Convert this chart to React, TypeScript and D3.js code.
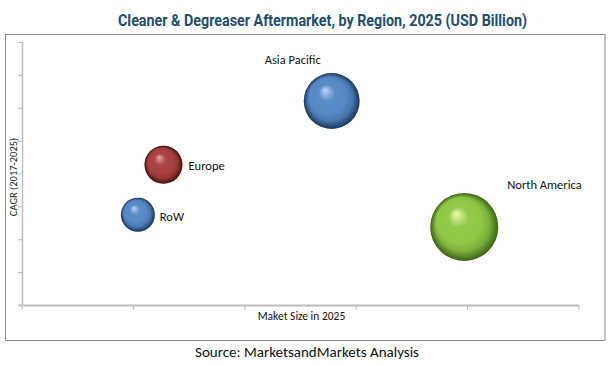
import React from "react";
import * as d3 from "d3";

const regions = ["RoW", "Europe", "Asia Pacific", "North America"];
const marketSize = [1.04, 1.27, 2.78, 3.97];
const cagr = [2.76, 4.28, 6.22, 2.39];
const bubbleSize = [1.0, 1.25, 2.7, 4.0];
const xTicks = [0, 1, 2, 3, 4, 5];
const yTicks = [0, 1, 2, 3, 4, 5, 6, 7, 8];

const palette: Record<string, { hi: string; mid: string; dark: string }> = {
  RoW: { hi: "#b8d6f8", mid: "#5286c4", dark: "#23497a" },
  Europe: { hi: "#f2a5a5", mid: "#a83c3c", dark: "#5e1818" },
  "Asia Pacific": { hi: "#b8d6f8", mid: "#5286c4", dark: "#23497a" },
  "North America": { hi: "#f0fbb5", mid: "#8dc742", dark: "#52841e" },
};

// label placement relative to bubble
const labelPlace: Record<string, { anchor: string; dx: number; dy: number; useR: boolean }> = {
  RoW: { anchor: "start", dx: 5, dy: 2, useR: true },
  Europe: { anchor: "start", dx: 6, dy: 1, useR: true },
  "Asia Pacific": { anchor: "middle", dx: -39, dy: -37, useR: false },
  "North America": { anchor: "start", dx: 43, dy: -38, useR: false },
};

export default function App() {
  const W = 615;
  const H = 365;
  const x = d3.scaleLinear().domain([0, 5]).range([22, 579]);
  const y = d3.scaleLinear().domain([0, 8]).range([305.5, 42.5]);
  const r = d3.scaleSqrt().domain([0, 4]).range([0, 34]);
  const font = "Carlito, Calibri, 'Open Sans', sans-serif";

  const data = regions.map((name, i) => ({
    name,
    x: marketSize[i],
    y: cagr[i],
    s: bubbleSize[i],
  }));

  return (
    <svg
      width={W}
      height={H}
      style={{ position: "absolute", left: 0, top: 0, background: "#fff" }}
    >
      <defs>
        {data.map((d, i) => {
          const c = palette[d.name];
          return (
            <radialGradient
              key={i}
              id={`g${i}`}
              cx="0.5"
              cy="0.5"
              r="0.5"
              fx="0.38"
              fy="0.3"
            >
              <stop offset="0" stopColor={c.hi} />
              <stop offset="0.3" stopColor={c.mid} stopOpacity={0.95} />
              <stop offset="0.8" stopColor={c.mid} />
              <stop offset="1" stopColor={c.dark} />
            </radialGradient>
          );
        })}
        <radialGradient id="shade" cx="0.5" cy="0.5" r="0.5" fx="0.3" fy="0.25">
          <stop offset="0.65" stopColor="#000" stopOpacity={0} />
          <stop offset="1" stopColor="#000" stopOpacity={0.25} />
        </radialGradient>
        <radialGradient id="glow" cx="0.5" cy="0.5" r="0.5">
          <stop offset="0.8" stopColor="#f5e9b0" stopOpacity={0.35} />
          <stop offset="1" stopColor="#f5e9b0" stopOpacity={0} />
        </radialGradient>
      </defs>

      <text
        x={322.5}
        y={26}
        textAnchor="middle"
        fontFamily="'Liberation Sans Narrow', 'Roboto', sans-serif"
        fontWeight="bold"
        fontSize={16}
        fill="#1f4e6e"
        textLength={409}
        lengthAdjust="spacingAndGlyphs"
      >
        Cleaner &amp; Degreaser Aftermarket, by Region, 2025 (USD Billion)
      </text>

      <rect x={5.5} y={34.5} width={599.5} height={306} fill="none" stroke="#8c8c8c" strokeWidth={1} />

      {/* y axis */}
      <line x1={22.5} x2={22.5} y1={y(8)} y2={y(0)} stroke="#bdbdbd" strokeWidth={1.5} />
      {yTicks.map((t) => (
        <line key={t} x1={18} x2={22.5} y1={y(t)} y2={y(t)} stroke="#bdbdbd" strokeWidth={1} />
      ))}
      {/* x axis */}
      <line x1={19} x2={x(5)} y1={y(0)} y2={y(0)} stroke="#bdbdbd" strokeWidth={2} />
      {xTicks.map((t) => (
        <line key={t} x1={x(t)} x2={x(t)} y1={y(0)} y2={y(0) + 4.5} stroke="#bdbdbd" strokeWidth={1} />
      ))}

      <text
        transform={`translate(17,177) rotate(-90)`}
        textAnchor="middle"
        fontFamily={font}
        fontSize={10.5}
        fill="#222"
      >
        CAGR (2017-2025)
      </text>
      <text
        x={301.5}
        y={320}
        textAnchor="middle"
        fontFamily={font}
        fontSize={11.5}
        fill="#111"
      >
        Maket Size in 2025
      </text>

      {data.map((d, i) => {
        const cx = x(d.x);
        const cy = y(d.y);
        const rr = r(d.s);
        return (
          <g key={d.name}>
            <circle cx={cx} cy={cy} r={rr + 2} fill="url(#glow)" />
            <circle cx={cx} cy={cy} r={rr} fill={`url(#g${i})`} />
            <circle cx={cx} cy={cy} r={rr} fill="url(#shade)" />
          </g>
        );
      })}

      {data.map((d) => {
        const cx = x(d.x);
        const cy = y(d.y);
        const rr = r(d.s);
        const p = labelPlace[d.name];
        const lx = p.useR ? cx + rr + p.dx : cx + p.dx;
        const ly = p.useR ? cy + p.dy + 4 : cy + p.dy;
        return (
          <text
            key={d.name}
            x={lx}
            y={ly}
            textAnchor={p.anchor}
            fontFamily={font}
            fontSize={12.5}
            fill="#111"
          >
            {d.name}
          </text>
        );
      })}

      <text
        x={307}
        y={357}
        textAnchor="middle"
        fontFamily={font}
        fontSize={15}
        fill="#111"
      >
        Source: MarketsandMarkets Analysis
      </text>
    </svg>
  );
}
